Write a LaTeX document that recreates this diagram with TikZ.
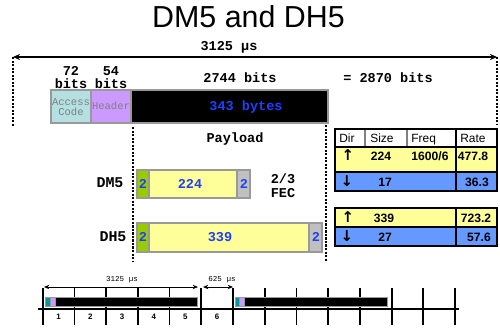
\documentclass[tikz,border=0pt]{standalone}
\usepackage{fontspec}
\setmainfont{Liberation Sans}
\newfontfamily\cour{Liberation Mono}
\newfontfamily\flechas{DejaVu Sans}
\usepackage{tikz}
\usetikzlibrary{arrows.meta}
\definecolor{acc}{HTML}{B4E0E2}
\definecolor{hdr}{HTML}{CC99FF}
\definecolor{amar}{HTML}{FFFF99}
\definecolor{azul}{HTML}{6699FF}
\definecolor{verde}{HTML}{99CC00}
\definecolor{gris}{HTML}{C0C0C0}
\definecolor{txtazul}{HTML}{1F3FFF}
\definecolor{teal}{HTML}{009999}
\tikzset{
  titulo/.style={font=\fontsize{17.3}{20}\selectfont,inner sep=0pt},
  mono/.style={font=\cour\bfseries\fontsize{7.7}{7.4}\selectfont,inner sep=0pt,align=center},
  monoazul/.style={mono,text=txtazul},
  pequena/.style={font=\cour\fontsize{6}{5.7}\selectfont,text=gray,inner sep=0pt,align=center},
  caja/.style={draw=gray!80,line width=0.6pt},
  guia/.style={dash pattern=on 1.2pt off 0.8pt,line width=0.9pt},
  flecha/.style={{Stealth[length=4pt,width=3.5pt]}-{Stealth[length=4pt,width=3.5pt]},line width=0.8pt},
  cab/.style={font=\fontsize{6.8}{8}\selectfont,inner sep=0pt,anchor=base west},
  dato/.style={font=\bfseries\fontsize{6.9}{8}\selectfont,inner sep=0pt},
  dir/.style={font=\flechas\bfseries\fontsize{8.5}{9}\selectfont,inner sep=0pt},
  mini/.style={font=\cour\fontsize{4.3}{5}\selectfont,inner sep=0pt},
  num/.style={font=\bfseries\fontsize{4.5}{5}\selectfont,inner sep=0pt}
}
\begin{document}
\begin{tikzpicture}[x=0.02cm,y=-0.02cm]
\useasboundingbox (0,0) rectangle (500,329);
% titulo
\node[titulo,anchor=base] (tit) at (248.5,27) {DM5 and DH5};
% slot completo
\coordinate (sl) at (13,57);
\coordinate (sr) at (497,57);
\coordinate (slb) at (13,127);
\coordinate (srb) at (497,124);
\draw[flecha] (sl) -- (sr);
\draw[guia] (sl) -- (slb);
\draw[guia] (sr) -- (srb);
\node[mono] (tslot) at (229,47) {3125 µs};
% bits
\node[mono] (b72) at (71,78) {72\\bits};
\node[mono] (b54) at (111,78) {54\\bits};
\node[mono] (b2744) at (240,78) {2744 bits};
\node[mono] (btot) at (388,78) {= 2870 bits};
% paquete
\draw[caja,fill=acc] (51,90) rectangle (91,123);
\draw[caja,fill=hdr] (91,90) rectangle (131,123);
\draw[caja,fill=black] (131,90) rectangle (328,123);
\node[pequena] (ac) at (71,107) {Access\\Code};
\node[pequena] (hd) at (111,106) {Header};
\node[monoazul] (bytes) at (246,107) {343 bytes};
% payload
\coordinate (pla) at (133,127);
\coordinate (plb) at (133,262);
\coordinate (pra) at (326,125);
\coordinate (prb) at (326,262);
\draw[guia] (pla) -- (plb);
\draw[guia] (pra) -- (prb);
\node[mono] (pay) at (235,139) {Payload};
% DM5
\node[mono,font=\cour\bfseries\fontsize{8.5}{9}\selectfont] (dm5) at (110,183) {DM5};
\draw[caja,fill=verde] (137,170) rectangle (149,198);
\draw[caja,fill=amar] (149,170) rectangle (237,198);
\draw[caja,fill=gris] (237,170) rectangle (250,198);
\node[monoazul] (dmh) at (143,184) {2};
\node[monoazul] (dmp) at (190,184) {224};
\node[monoazul] (dmc) at (244,184) {2};
\node[mono,font=\cour\bfseries\fontsize{7.7}{8}\selectfont] (fec) at (283,186) {2/3\\FEC};
% DH5
\node[mono,font=\cour\bfseries\fontsize{8.5}{9}\selectfont] (dh5) at (113,237) {DH5};
\draw[caja,fill=verde] (137,223) rectangle (149,252);
\draw[caja,fill=amar] (149,223) rectangle (309,252);
\draw[caja,fill=gris] (309,223) rectangle (322,252);
\node[monoazul] (dhh) at (143,237) {2};
\node[monoazul] (dhp) at (220,237) {339};
\node[monoazul] (dhc) at (316,237) {2};
% tabla DM5
\fill[amar] (335,147) rectangle (497,172);
\fill[azul] (335,172) rectangle (497,191);
\draw[gray,line width=0.7pt] (365,129) -- (365,147);
\draw[gray,line width=0.7pt] (407,129) -- (407,147);
\draw[line width=0.6pt] (456,129) -- (456,191);
\draw[line width=0.6pt] (335,147) -- (497,147);
\draw[line width=0.6pt] (335,172) -- (497,172);
\draw[line width=0.9pt] (335,129) rectangle (497,191);
\node[cab] (hdir) at (339,142) {Dir};
\node[cab] (hsize) at (370,142) {Size};
\node[cab] (hfreq) at (411,142) {Freq};
\node[cab] (hrate) at (460,142) {Rate};
\node[dir] (u1) at (348,155) {↑};
\node[dato] (u1s) at (381,156) {224};
\node[dato] (u1f) at (430,156) {1600/6};
\node[dato] (u1r) at (473,156) {477.8};
\node[dir] (d1) at (347,181) {↓};
\node[dato] (d1s) at (385,182) {17};
\node[dato] (d1r) at (477,182) {36.3};
% tabla DH5
\fill[amar] (335,208) rectangle (497,227);
\fill[azul] (335,227) rectangle (497,246);
\draw[line width=0.6pt] (456,208) -- (456,246);
\draw[line width=0.6pt] (335,227) -- (497,227);
\draw[line width=0.9pt] (335,208) rectangle (497,246);
\node[dir] (u2) at (348,217) {↑};
\node[dato] (u2s) at (384,218) {339};
\node[dato] (u2r) at (476,218) {723.2};
\node[dir] (d2) at (347,236) {↓};
\node[dato] (d2s) at (385,237) {27};
\node[dato] (d2r) at (479,237) {57.6};
% linea de tiempo
\draw[line width=0.6pt] (38,309) -- (459,309);
\foreach \i in {0,...,13}
  \draw[line width=1pt] ({42.7+31.72*\i},288) -- ({42.7+31.72*\i},325);
\foreach \i in {1,...,6}
  \node[num] (n\i) at ({42.7+31.72*(\i-0.5)},317) {\i};
\draw[caja,line width=0.5pt,fill=teal] (45,297) rectangle (50,306);
\draw[caja,line width=0.5pt,fill=hdr] (50,297) rectangle (55,306);
\draw[caja,line width=0.5pt,fill=black] (55,297) rectangle (197,306);
\draw[caja,line width=0.5pt,fill=teal] (235,297) rectangle (239.5,306);
\draw[caja,line width=0.5pt,fill=hdr] (239.5,297) rectangle (244.5,306);
\draw[caja,line width=0.5pt,fill=black] (244.5,297) rectangle (387,306);
\coordinate (ta) at (44,287);
\coordinate (tb) at (198,287);
\coordinate (tc) at (203,287);
\coordinate (td) at (233,287);
\draw[flecha,{Stealth[length=3pt,width=2.5pt]}-{Stealth[length=3pt,width=2.5pt]},line width=0.5pt] (ta) -- (tb);
\draw[flecha,{Stealth[length=3pt,width=2.5pt]}-{Stealth[length=3pt,width=2.5pt]},line width=0.5pt] (tc) -- (td);
\node[mini] (t3125) at (122,280) {3125 µs};
\node[mini] (t625) at (222,280) {625 µs};
\end{tikzpicture}
\end{document}
